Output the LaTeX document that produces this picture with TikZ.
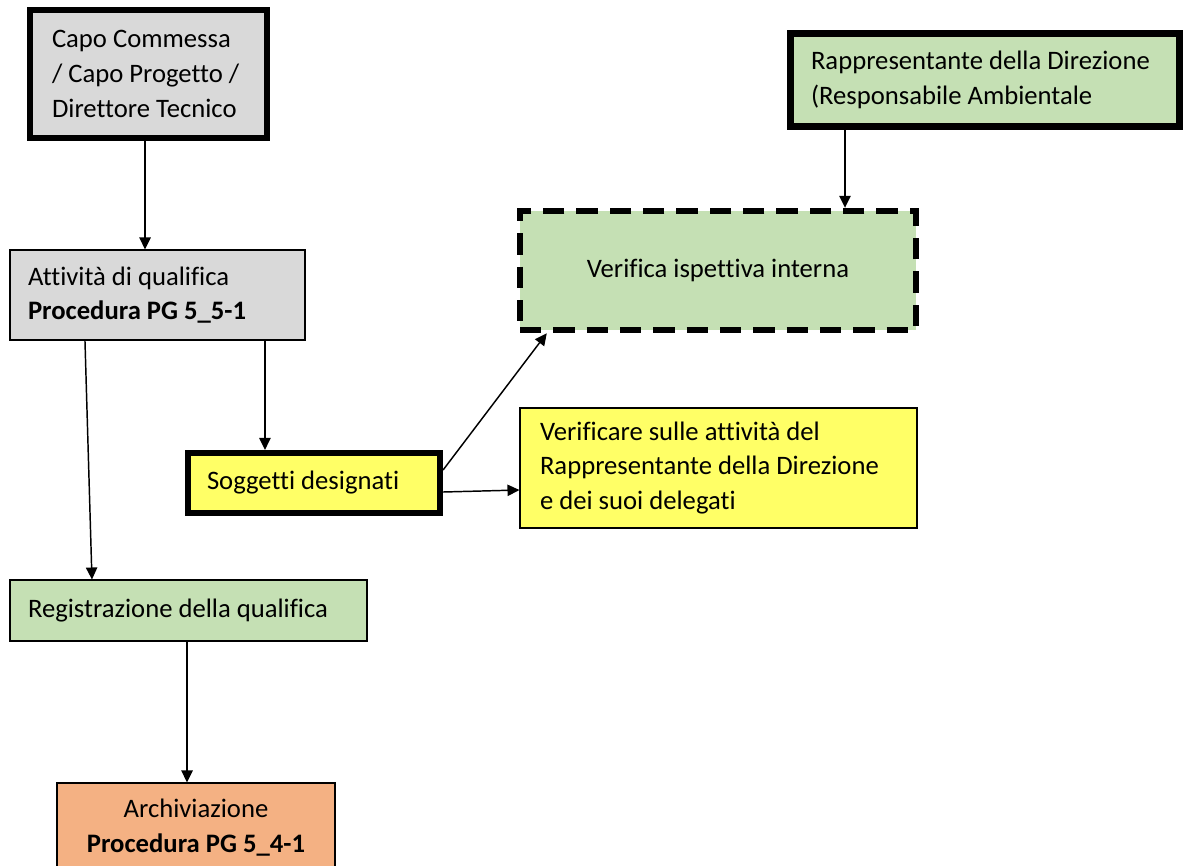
\documentclass[tikz,border=0pt]{standalone}
\usepackage{fontspec}
\setmainfont[Ligatures=NoCommon]{Carlito}
\usetikzlibrary{arrows.meta,positioning}

\definecolor{boxgrey}{HTML}{D9D9D9}
\definecolor{boxgreen}{HTML}{C5E0B4}
\definecolor{boxyellow}{HTML}{FFFF66}
\definecolor{boxorange}{HTML}{F4B183}

\tikzset{
  box/.style={draw, line width=0.8pt, inner sep=0pt, align=left,
              font=\fontsize{20}{26}\selectfont,
              execute at begin node={\spaceskip=0pt\xspaceskip=0pt}},
  heavy/.style={line width=4.6pt},
  flow/.style={->, line width=1.1pt},
}

\begin{document}
\begin{tikzpicture}[x=0.75pt, y=-0.75pt, >={Triangle[length=9pt,width=8.5pt]}]

  \useasboundingbox (0,0) rectangle (1189,865);

  %--- Boxes on the left
  \node[box, heavy, fill=boxgrey, minimum width=177.75pt, minimum height=96pt,
        text width=144.75pt] (capo) at (148.5,74)
        {Capo Commessa\\/ Capo Progetto /\\Direttore Tecnico};

  \node[box, fill=boxgrey, minimum width=221.25pt, minimum height=67.5pt,
        text width=194.25pt] (attivita) at (157.5,295)
        {Attività di qualifica\\\textbf{Procedura PG 5\_5-1}};

  \node[box, heavy, fill=boxyellow, minimum width=189pt, minimum height=45pt,
        text width=160.5pt] (soggetti) at (314,483)
        {Soggetti designati};

  \node[box, fill=boxgreen, minimum width=267.75pt, minimum height=45.75pt,
        text width=240.75pt] (registrazione) at (188.5,610.5)
        {Registrazione della qualifica};

  \node[box, fill=boxorange, minimum width=208.5pt, minimum height=66.75pt,
        align=center] (archivio) at (196,827.5)
        {Archiviazione\\\textbf{Procedura PG 5\_4-1}};

  %--- Boxes on the right
  \node[box, heavy, fill=boxgreen, minimum width=291.75pt, minimum height=69.75pt,
        text width=261pt] (rappresentante) at (985,80)
        {Rappresentante della Direzione\\(Responsabile Ambientale};

  \node[box, line width=4.8pt, dash pattern=on 16pt off 9pt, fill=boxgreen,
        minimum width=297pt, minimum height=89.25pt, align=center] (verifica) at (718,270.5)
        {Verifica ispettiva interna};

  \node[box, fill=boxyellow, minimum width=297.75pt, minimum height=90pt,
        text width=267.75pt] (verificare) at (718.5,468)
        {Verificare sulle attività del\\Rappresentante della Direzione\\e dei suoi delegati};

  %--- Connectors
  \draw[flow] ([xshift=-2.6pt]capo.south) -- ([xshift=-2.6pt]capo.south |- attivita.north);
  \draw[flow] ([xshift=-105pt]rappresentante.south) -- ([xshift=-105pt]rappresentante.south |- verifica.north);
  \draw[flow] ([xshift=80.6pt]attivita.south) -- ([xshift=80.6pt]attivita.south |- soggetti.north);
  \draw[flow] ([xshift=-54.4pt]attivita.south) -- ([xshift=-72.4pt]registrazione.north);
  \draw[flow] ([yshift=9.75pt]soggetti.east) -- ([xshift=22.5pt]verifica.south west);
  \draw[flow] ([yshift=-6.75pt]soggetti.east) -- ([yshift=-16.5pt]verificare.west);
  \draw[flow] ([xshift=-1.1pt]registrazione.south) -- ([xshift=-1.1pt]registrazione.south |- archivio.north);

\end{tikzpicture}
\end{document}
